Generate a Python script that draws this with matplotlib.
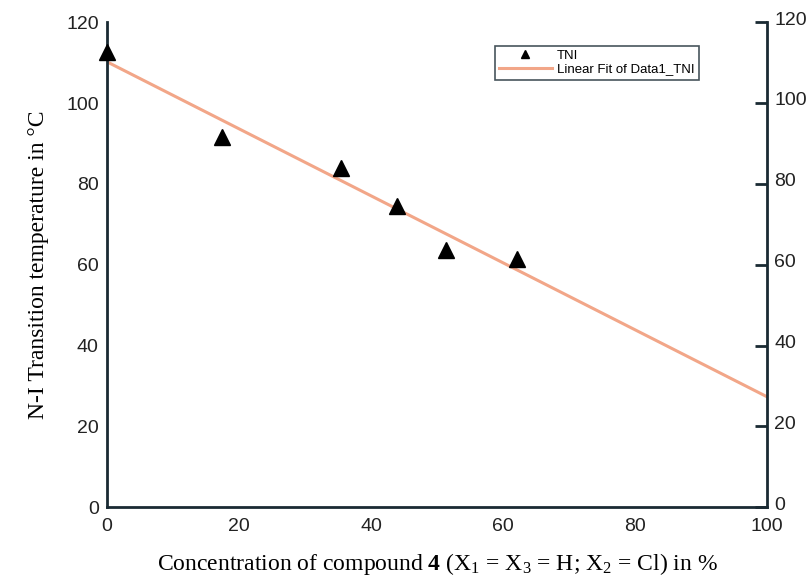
import numpy as np
import matplotlib.pyplot as plt
import matplotlib.transforms as mtransforms

# data
conc = [0, 17.4, 35.5, 43.9, 51.4, 62.1]
tni = [112.6, 91.6, 83.9, 74.5, 63.6, 61.4]
fit_x = [0, 100]
fit_y = [110.2, 27.3]
xticks = [0, 20, 40, 60, 80, 100]
yticks = [0, 20, 40, 60, 80, 100, 120]

plt.rcParams['font.family'] = ['Liberation Sans', 'DejaVu Sans']
plt.rcParams['mathtext.fontset'] = 'custom'
plt.rcParams['mathtext.rm'] = 'Liberation Serif'
plt.rcParams['mathtext.it'] = 'Liberation Serif:italic'
plt.rcParams['mathtext.bf'] = 'Liberation Serif:bold'

fig = plt.figure(figsize=(8.11, 5.85), dpi=100)
ax = fig.add_axes([0.132, 0.133, 0.814, 0.829])

ax.plot(fit_x, fit_y, color='#f2a688', lw=2.2, label='Linear Fit of Data1_TNI', zorder=2)
ax.plot(conc, tni, '^', color='black', ms=12, label='TNI', clip_on=False, zorder=3)

ax.set_xlim(0, 100)
ax.set_ylim(0, 120)
ax.set_xticks(xticks)
ax.set_yticks(yticks)

ax.spines['top'].set_visible(False)
for s in ['left', 'right', 'bottom']:
    ax.spines[s].set_linewidth(2)
    ax.spines[s].set_color('#1a2a33')

ax.tick_params(axis='x', bottom=False, labelsize=14, pad=4, labelcolor='#222222')
ax.tick_params(axis='y', left=False, right=True, labelleft=True, labelright=True,
               direction='in', length=9, width=2, color='#1a2a33',
               labelsize=14, pad=6, labelcolor='#222222')

# right-hand labels sit a little higher than their ticks
shift = mtransforms.ScaledTranslation(-1 / 72, 3 / 72, fig.dpi_scale_trans)
for t in ax.yaxis.get_major_ticks():
    t.label2.set_transform(t.label2.get_transform() + shift)

ax.set_ylabel('N-I Transition temperature in \u00b0C', fontsize=17,
              family='Liberation Serif', labelpad=12)
ax.set_xlabel(r'Concentration of compound $\mathbf{4}$ (X$_1$ = X$_3$ = H; X$_2$ = Cl) in %',
              fontsize=17, family='Liberation Serif', labelpad=12)

h, l = ax.get_legend_handles_labels()
leg = ax.legend(h[::-1], l[::-1], loc='upper right', bbox_to_anchor=(0.906, 0.965),
                fontsize=9.5, frameon=True, fancybox=False, edgecolor='#1a2a33',
                handlelength=4, borderpad=0.3, labelspacing=0.1, markerscale=0.5,
                handletextpad=0.4)
leg.get_frame().set_linewidth(1.2)

fig.savefig('out.png', dpi=100)
